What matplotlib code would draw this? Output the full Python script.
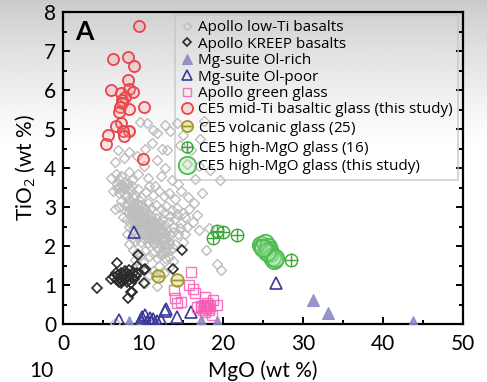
import numpy as np
import matplotlib
matplotlib.use("Agg")
import matplotlib.pyplot as plt
from matplotlib.path import Path
from matplotlib.lines import Line2D

plt.rcParams['font.family'] = ['Lato', 'DejaVu Sans']
plt.rcParams['mathtext.fontset'] = 'custom'
plt.rcParams['mathtext.rm'] = 'Open Sans'
plt.rcParams['mathtext.it'] = 'Open Sans:italic'

# ---------------- data (MgO wt%, TiO2 wt%) ----------------
lowti_mgo = [9.6, 10.5, 12.8, 14.2, 17.6,
             11.3, 11.7, 13.4, 15.0, 17.1, 8.4,
             6.9, 8.2, 10.3, 11.1, 12.4, 13.0, 14.6, 16.0, 9.2,
             6.5, 7.6, 11.7, 12.8, 15.5, 17.0, 18.4, 10.1,
             6.0, 6.6, 7.0, 7.3, 7.8, 8.2, 7.5, 6.8, 8.6, 9.4, 10.6, 13.6, 11.5, 12.3, 14.4, 16.5, 19.6,
             6.3, 7.0, 7.6, 8.0, 8.5, 9.0, 9.4, 8.3, 7.3, 9.8, 10.4, 11.2, 12.0, 12.6, 13.3, 14.0, 14.8, 15.6, 16.4, 17.4, 10.8,
             7.0, 7.8, 8.6, 8.9, 9.3, 9.8, 10.2, 10.6, 11.0, 11.6, 12.2, 12.9, 13.6, 14.3, 15.0, 15.8, 16.8, 6.5, 8.2,
             7.5, 8.0, 8.5, 8.8, 9.2, 9.5, 9.8, 10.1, 10.4, 10.7, 11.0, 11.3, 11.6, 12.0, 12.4, 12.8, 13.3, 14.0, 14.8, 15.5, 16.3, 17.0, 9.0, 10.0,
             8.3, 8.7, 9.0, 9.4, 9.7, 10.0, 10.3, 10.6, 10.9, 11.2, 11.5, 11.8, 12.1, 12.4, 12.7, 13.0, 13.4, 13.8, 14.4, 15.2, 8.0, 18.2,
             8.6, 9.0, 9.4, 9.8, 10.2, 10.6, 11.0, 11.4, 11.8, 12.2, 12.6, 13.0, 13.3, 13.7, 14.0, 8.2, 15.0,
             8.8, 9.3, 9.8, 10.3, 10.8, 11.3, 11.8, 12.3, 12.8, 13.3, 13.8, 9.0, 10.0, 17.9, 19.2, 19.8,
             9.6, 10.4, 11.2, 12.0, 12.6, 11.6, 10.8, 10.2, 11.8, 13.2, 9.2, 6.5,
             8.9, 9.6, 10.9, 11.9, 12.5, 8.4, 9.1, 10.5, 11.4, 12.9, 9.9, 10.7, 11.7, 12.1, 7.9, 8.7,
             8.1, 8.5, 8.9, 9.3, 9.7, 10.1, 8.6, 9.0, 9.4, 9.8, 10.2, 10.6, 11.0,
             9.2, 9.6, 10.0, 10.4, 10.8, 11.2, 11.6, 12.0, 9.9, 10.3, 10.7, 11.1, 11.5, 11.9, 12.3, 12.7,
             10.8, 11.2, 11.6, 12.0, 12.4, 12.8, 13.2, 11.9, 12.4, 12.9, 13.4, 12.2,
             7.4, 7.8, 8.2, 8.6, 7.0, 7.6, 8.1, 6.7, 7.7, 8.8, 9.6, 8.4,
             12.6, 13.4, 14.2, 15.2, 13.8, 14.6]
lowti_tio2 = [5.19, 5.15, 5.10, 5.15, 5.20,
              4.97, 4.89, 4.95, 4.85, 4.75, 4.95,
              4.46, 4.42, 4.50, 4.63, 4.50, 4.46, 4.60, 4.45, 4.30,
              4.16, 4.25, 4.20, 3.99, 4.10, 4.05, 3.95, 4.05,
              3.75, 3.85, 3.72, 3.80, 3.65, 3.90, 3.55, 3.60, 3.70, 3.85, 3.75, 3.69, 3.55, 3.80, 3.60, 3.72, 3.70,
              3.40, 3.35, 3.45, 3.30, 3.40, 3.32, 3.45, 3.20, 3.15, 3.25, 3.38, 3.30, 3.42, 3.28, 3.35, 3.20, 3.40, 3.25, 3.10, 3.35, 3.55,
              3.00, 3.05, 3.00, 3.10, 2.95, 3.05, 2.95, 3.10, 2.98, 3.05, 2.95, 3.02, 2.92, 2.98, 2.85, 2.95, 2.80, 2.95, 2.88,
              2.75, 2.70, 2.78, 2.65, 2.72, 2.80, 2.68, 2.75, 2.62, 2.70, 2.78, 2.64, 2.72, 2.60, 2.68, 2.55, 2.62, 2.70, 2.60, 2.50, 2.62, 2.40, 2.85, 2.88,
              2.50, 2.42, 2.55, 2.45, 2.38, 2.50, 2.42, 2.52, 2.40, 2.48, 2.36, 2.46, 2.35, 2.44, 2.30, 2.40, 2.28, 2.36, 2.30, 2.32, 2.30, 2.45,
              2.20, 2.12, 2.22, 2.10, 2.18, 2.08, 2.15, 2.05, 2.12, 2.02, 2.10, 1.98, 2.06, 1.95, 2.05, 2.05, 2.10,
              1.90, 1.82, 1.78, 1.88, 1.75, 1.82, 1.70, 1.78, 1.68, 1.72, 1.62, 1.65, 1.58, 1.90, 1.55, 1.38,
              1.45, 1.40, 1.35, 1.50, 1.30, 1.20, 1.25, 1.05, 0.98, 1.45, 1.30, 0.02,
              2.58, 2.62, 2.55, 2.50, 2.38, 2.60, 2.30, 2.22, 2.28, 2.18, 2.58, 2.32, 2.25, 2.58, 2.90, 2.92,
              3.05, 3.12, 2.98, 3.08, 2.90, 3.00, 2.88, 2.78, 2.92, 2.82, 2.70, 2.85, 2.66,
              2.62, 2.55, 2.66, 2.55, 2.60, 2.52, 2.60, 2.48, 2.40, 2.32, 2.45, 2.28, 2.38, 2.25, 2.35, 2.20,
              2.20, 2.10, 2.22, 2.08, 2.18, 2.02, 2.12, 1.92, 1.88, 1.85, 1.90, 1.80,
              3.40, 3.52, 3.48, 3.55, 3.50, 3.65, 3.62, 3.48, 3.28, 3.25, 3.15, 2.98,
              2.85, 2.78, 2.82, 2.75, 2.48, 2.45]

kreep_mgo = [6.0, 6.4, 6.7, 6.9, 7.1, 7.3, 7.4, 7.6, 7.8, 7.9, 8.1, 8.3, 8.4, 8.6, 8.8, 8.9, 9.1,
             7.2, 7.7, 8.2, 6.6, 7.0, 8.0, 9.3, 7.5, 8.5,
             4.2, 8.1, 8.5, 9.4, 9.2, 10.3, 13.8, 14.9, 6.7, 10.1, 10.1, 8.6]
kreep_tio2 = [1.15, 1.20, 1.12, 1.25, 1.18, 1.30, 1.10, 1.22, 1.15, 1.28, 1.20, 1.12, 1.25, 1.18, 1.30, 1.15, 1.22,
              1.05, 1.35, 1.38, 1.30, 1.08, 1.08, 1.30, 1.27, 1.05,
              0.93, 0.66, 0.81, 1.77, 1.49, 1.40, 1.40, 1.91, 1.56, 1.38, 1.04, 0.83]

olrich_mgo = [8.3, 9.8, 11.5, 17.3, 19.2, 31.2, 33.1, 43.8]
olrich_tio2 = [0.06, 0.08, 0.06, 0.07, 0.06, 0.62, 0.27, 0.06]

olpoor_mgo = [8.9, 7.0, 10.3, 9.7, 10.9, 11.7, 12.9, 12.7, 14.3, 16.0, 12.2, 26.6, 9.9, 11.3, 11.0, 10.5]
olpoor_tio2 = [2.37, 0.10, 0.23, 0.10, 0.15, 0.08, 0.38, 0.33, 0.19, 0.32, 0.10, 1.04, 0.18, 0.12, 0.05, 0.05]

green_glass_mgo = [16.0, 13.9, 14.0, 14.25, 15.7, 16.25, 16.5, 17.8, 18.8, 19.3, 18.6, 16.75, 14.7,
                   17.3, 17.6, 17.9, 18.1, 18.3, 17.5, 18.0, 17.7, 18.4, 17.2, 17.8, 18.2]
green_glass_tio2 = [1.33, 0.87, 0.66, 0.53, 1.00, 0.89, 0.79, 0.70, 0.62, 0.48, 0.24, 0.44, 0.57,
                    0.45, 0.50, 0.40, 0.48, 0.35, 0.35, 0.55, 0.30, 0.45, 0.40, 0.45, 0.40]

midti_mgo = [9.52, 6.30, 8.15, 8.90, 8.11, 5.98, 7.27, 8.31, 8.73, 7.81, 7.39, 10.15, 7.36, 7.18, 8.27,
             6.98, 7.31, 6.64, 8.27, 7.56, 7.68, 5.64, 5.35, 9.94]
midti_tio2 = [7.63, 6.79, 6.84, 6.61, 6.25, 5.99, 5.93, 6.02, 5.95, 5.83, 5.74, 5.56, 5.66, 5.57, 5.51,
              5.44, 5.16, 5.07, 4.95, 4.96, 4.82, 4.84, 4.61, 4.23]

volc_mgo = [11.9, 14.2]
volc_tio2 = [1.23, 1.13]

himgo16_mgo = [19.3, 20.0, 18.8, 21.8, 28.45, 24.6]
himgo16_tio2 = [2.39, 2.36, 2.20, 2.28, 1.64, 2.02]

himgo_mgo = [24.7, 25.3, 25.6, 25.7, 25.9, 26.1, 26.35, 25.5, 26.5, 25.0]
himgo_tio2 = [2.03, 2.07, 1.98, 1.90, 1.81, 1.73, 1.64, 1.85, 1.70, 1.95]

labels = ["Apollo low-Ti basalts", "Apollo KREEP basalts", "Mg-suite Ol-rich", "Mg-suite Ol-poor",
          "Apollo green glass", "CE5 mid-Ti basaltic glass (this study)",
          r"CE5 volcanic glass ($\it{25}$)", r"CE5 high-MgO glass ($\it{16}$)",
          "CE5 high-MgO glass (this study)"]

# ---------------- figure ----------------
W, H = 487, 382
fig = plt.figure(figsize=(W / 100, H / 100), dpi=100)

# background gradient (grey at top fading to white)
bg = fig.add_axes([0, 0, 1, 1], zorder=-10)
yy = np.linspace(0, 1, 400)[:, None]          # 0 = top
shade = 0.79 + 0.21 * np.clip(yy / 0.38, 0, 1) ** 0.8
img = np.repeat(shade, 10, axis=1)
bg.imshow(img, cmap='gray', vmin=0, vmax=1, aspect='auto', extent=[0, 1, 0, 1], origin='upper')
bg.set_axis_off()

ax = fig.add_axes([63 / W, 1 - 324 / H, 400 / W, 312 / H])
ax.patch.set_alpha(0)

circ = Path.unit_circle()
hline = Path([[-1, 0], [1, 0]], [Path.MOVETO, Path.LINETO])
vline = Path([[0, -1], [0, 1]], [Path.MOVETO, Path.LINETO])
minus_circ = Path.make_compound_path(circ, hline)
plus_circ = Path.make_compound_path(circ, hline, vline)

styles = [
    dict(marker='D', ms=5.0, mfc='none', mec='#bdbdbd', mew=1.0, ls='none'),
    dict(marker='D', ms=5.0, mfc='none', mec='#2b2b2b', mew=1.2, ls='none'),
    dict(marker='^', ms=8.0, mfc='#8b8bc8', mec='#8b8bc8', mew=0.8, ls='none', alpha=0.9),
    dict(marker='^', ms=8.0, mfc='none', mec='#3a3a9a', mew=1.2, ls='none'),
    dict(marker='s', ms=7.0, mfc='none', mec='#f85db6', mew=1.0, ls='none', alpha=0.85),
    dict(marker='o', ms=8.0, mfc=(1.0, 0.55, 0.55, 0.25), mec='#e8444a', mew=1.3, ls='none'),
    dict(marker=minus_circ, ms=9.0, mfc=(0.85, 0.83, 0.45, 0.45), mec='#a29a30', mew=1.3, ls='none'),
    dict(marker=plus_circ, ms=9.0, mfc='none', mec='#36a836', mew=1.0, ls='none'),
    dict(marker='o', ms=12.5, mfc=(0.6, 0.88, 0.6, 0.3), mec='#4dbb4d', mew=1.3, ls='none'),
]
datasets = [(lowti_mgo, lowti_tio2), (kreep_mgo, kreep_tio2), (olrich_mgo, olrich_tio2),
            (olpoor_mgo, olpoor_tio2), (green_glass_mgo, green_glass_tio2), (midti_mgo, midti_tio2),
            (volc_mgo, volc_tio2), (himgo16_mgo, himgo16_tio2), (himgo_mgo, himgo_tio2)]

handles = []
for i, ((xs, ys), st) in enumerate(zip(datasets, styles)):
    ax.plot(xs, ys, zorder=3 + i, **st)
    hs = dict(st)
    if i in (0, 1):
        hs['ms'] = 4.2
    elif i in (2, 3):
        hs['ms'] = 7.5
    elif i == 4:
        hs['ms'] = 6.0
    elif i in (5, 6, 7):
        hs['ms'] = 8.0
    handles.append(Line2D([], [], **hs))

ax.set_xlim(0, 50)
ax.set_ylim(0, 8)
ax.set_xticks([0, 10, 20, 30, 40, 50])
ax.set_xticks(np.arange(5, 50, 10), minor=True)
ax.set_yticks(range(0, 9))
ax.set_yticks(np.arange(0.5, 8, 1), minor=True)
ax.tick_params(which='both', direction='in', right=True, top=False, width=1.4, labelsize=15)
ax.tick_params(axis='x', which='major', pad=7)
ax.tick_params(axis='y', which='major', pad=5)
ax.tick_params(which='major', length=5)
ax.tick_params(which='minor', length=3)
for s in ax.spines.values():
    s.set_linewidth(1.6)
ax.set_xlabel("MgO (wt %)", fontsize=15, labelpad=5)
ax.set_ylabel(r"TiO$_2$ (wt %)", fontsize=15)
ax.yaxis.set_label_coords(-0.062, 0.5)

ax.text(0.03, 0.975, "A", transform=ax.transAxes, fontsize=19, fontweight='bold', va='top', ha='left')

leg = ax.legend(handles, labels, loc='upper right', bbox_to_anchor=(0.988, 0.99), borderaxespad=0,
                prop={'family': ['Open Sans', 'DejaVu Sans'], 'size': 11},
                frameon=True, fancybox=False, handlelength=0.9, handletextpad=0.3,
                labelspacing=0.09, borderpad=0.35, numpoints=1)
leg.get_frame().set_facecolor('none')
leg.get_frame().set_edgecolor('#c4c4c4')
leg.get_frame().set_linewidth(1.2)
leg.set_zorder(20)

fig.text(41 / W, 1 - 361 / H, "10", fontsize=15, ha='center', va='top')

fig.savefig("out.png", dpi=100)
